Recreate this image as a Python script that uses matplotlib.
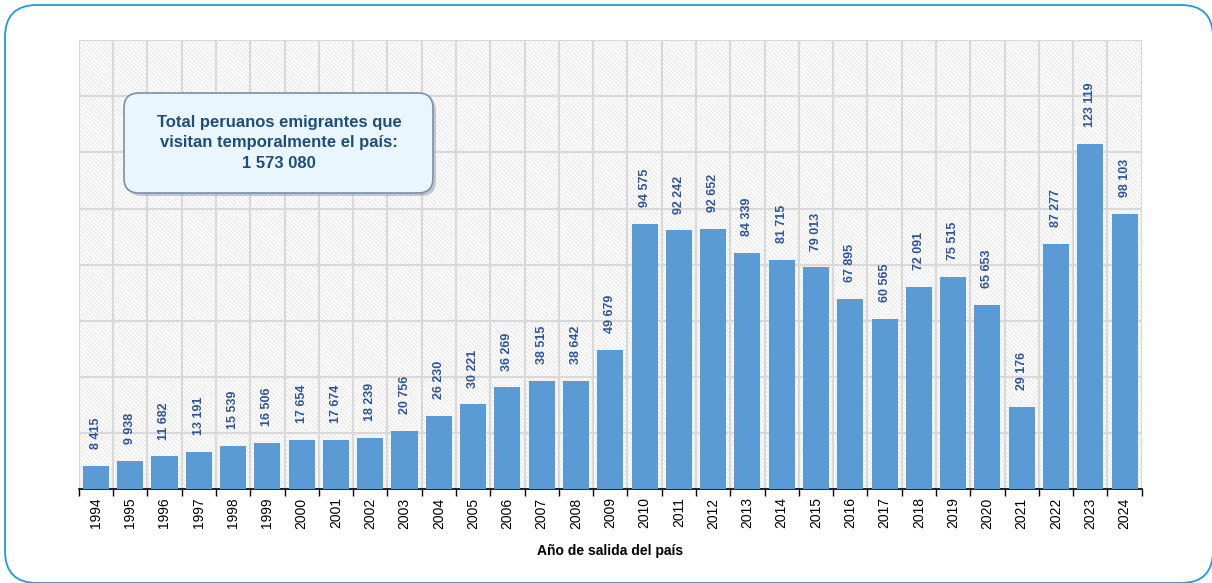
import matplotlib
matplotlib.use("Agg")
import matplotlib.pyplot as plt
from matplotlib.patches import FancyBboxPatch, Rectangle

years = [str(y) for y in range(1994, 2025)]
visitors = [8415, 9938, 11682, 13191, 15539, 16506, 17654, 17674, 18239, 20756,
            26230, 30221, 36269, 38515, 38642, 49679, 94575, 92242, 92652, 84339,
            81715, 79013, 67895, 60565, 72091, 75515, 65653, 29176, 87277, 123119,
            98103]
total_label = "Total peruanos emigrantes que\nvisitan temporalmente el país:\n1 573 080"
xlabel = "Año de salida del país"

BAR = "#5B9BD5"
LABEL = "#2F5597"
GRID = "#d9d9d9"
FONT = ["Liberation Sans Narrow", "Liberation Sans", "DejaVu Sans"]

plt.rcParams["font.family"] = FONT
plt.rcParams["hatch.linewidth"] = 0.5
plt.rcParams["hatch.color"] = "#dcdcdc"

fig = plt.figure(figsize=(12.12, 5.83), dpi=100)
ax = fig.add_axes([0.065, 0.161, 0.877, 0.770])

# hatched plot background
ax.add_patch(Rectangle((0, 0), 1, 1, transform=ax.transAxes, facecolor="white",
                       edgecolor="#dcdcdc", hatch="\\" * 8, lw=0, zorder=0))

x = range(len(years))
ax.bar(x, visitors, width=0.76, color=BAR, zorder=3)
for xi, v in zip(x, visitors):
    s = f"{v:,}".replace(",", " ")
    ax.text(xi, v + 6000, s, rotation=90, ha="center", va="bottom",
            fontsize=9, fontweight="bold", color=LABEL, zorder=4)

ax.set_xlim(-0.5, len(years) - 0.5)
ax.set_ylim(0, 160000)
ax.set_yticks(range(0, 160001, 20000))
ax.set_yticklabels([])
ax.tick_params(axis="y", length=0)
ax.set_xticks(list(x))
ax.set_xticklabels(years, rotation=90, fontsize=10)
ax.tick_params(axis="x", length=0, pad=6)
ax.set_xticks([i - 0.5 for i in range(len(years) + 1)], minor=True)
ax.tick_params(axis="x", which="minor", length=5, width=1, direction="out")
ax.grid(axis="y", color=GRID, lw=1.6, zorder=1)
ax.grid(axis="x", which="minor", color=GRID, lw=1.6, zorder=1)
ax.grid(axis="x", which="major", visible=False)
for side in ("top", "right", "left"):
    ax.spines[side].set_visible(False)
ax.spines["bottom"].set_linewidth(1.2)
ax.set_xlabel(xlabel, fontsize=10, fontweight="bold", labelpad=11)

# outer rounded frame
fig.patches.append(FancyBboxPatch((0.05, 0.0), 12.08, 5.78,
                                  boxstyle="round,pad=0,rounding_size=0.32",
                                  transform=fig.dpi_scale_trans, fill=False,
                                  edgecolor="#1E9BE0", lw=1.3, zorder=0))

# total box with shadow
fig.patches.append(FancyBboxPatch((1.27, 3.87), 3.09, 1.0,
                                  boxstyle="round,pad=0,rounding_size=0.15",
                                  transform=fig.dpi_scale_trans,
                                  facecolor="#a0a8b8", edgecolor="none",
                                  alpha=0.6, zorder=5))
fig.patches.append(FancyBboxPatch((1.24, 3.90), 3.09, 1.0,
                                  boxstyle="round,pad=0,rounding_size=0.15",
                                  transform=fig.dpi_scale_trans,
                                  facecolor="#EAF6FD", edgecolor="#7f8fa6",
                                  lw=1.2, zorder=6))
fig.text(2.79 / 12.12, 4.40 / 5.83, total_label, ha="center", va="center",
         fontsize=12, fontweight="bold", color="#1F4E79", linespacing=1.45,
         zorder=7)

fig.savefig("out.png", dpi=100)
